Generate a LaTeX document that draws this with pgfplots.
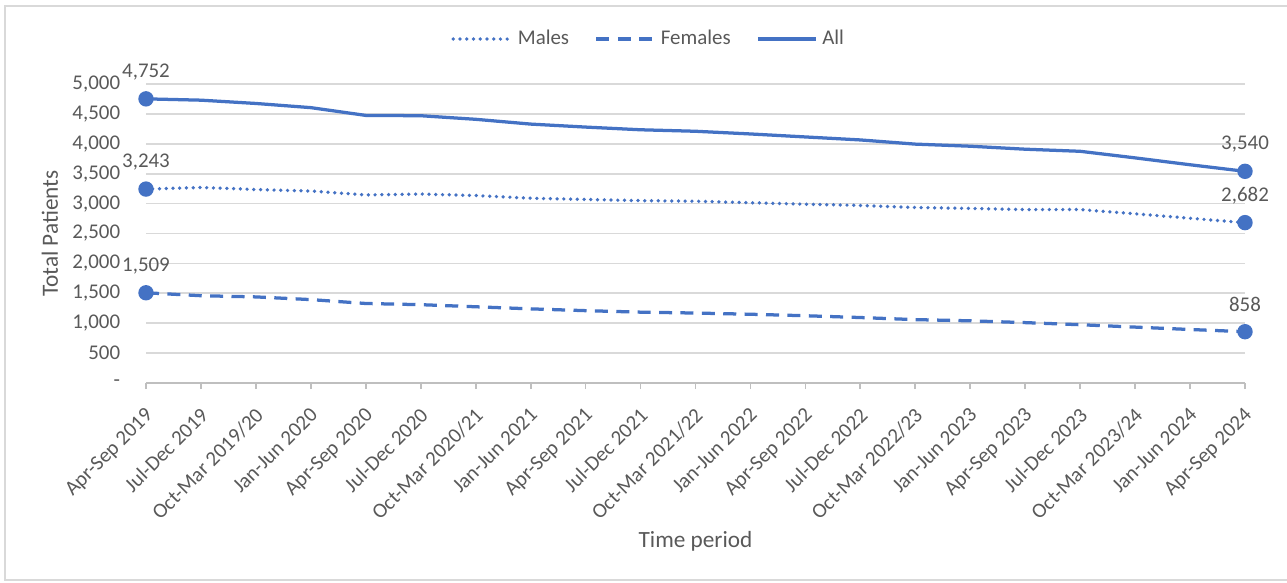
\documentclass[border=0pt]{standalone}
\usepackage{pgfplots}
\pgfplotsset{compat=1.18}
\usepackage{pgfplotstable}
\usepackage{fontspec}
\setmainfont{Carlito}

\definecolor{xlblue}{HTML}{4472C4}
\definecolor{xltext}{HTML}{595959}
\definecolor{xlgrid}{HTML}{D9D9D9}
\definecolor{xlaxis}{HTML}{BFBFBF}

% half-year periods, 0 = Apr-Sep 2019 ... 20 = Apr-Sep 2024
\pgfplotstableread{
idx males females all
0  3243 1509 4752
1  3270 1460 4730
2  3235 1440 4675
3  3210 1395 4605
4  3145 1330 4475
5  3160 1310 4470
6  3135 1275 4410
7  3090 1240 4330
8  3070 1210 4280
9  3050 1185 4235
10 3040 1170 4210
11 3015 1150 4165
12 2990 1125 4115
13 2970 1095 4065
14 2935 1060 3995
15 2920 1040 3960
16 2900 1010 3910
17 2900 975  3875
18 2830 935  3765
19 2755 895  3650
20 2682 858  3540
}\patients

\begin{document}
\begin{tikzpicture}
\useasboundingbox (0,0) rectangle (553.41pt,250.26pt);
\draw[xlgrid, line width=0.75pt] (2.15pt,1.0pt) rectangle (560pt,247.7pt);
\begin{axis}[
  at={(62.78pt,85.57pt)}, anchor=south west,
  scale only axis, width=472.57pt, height=128.57pt,
  xmin=0, xmax=20, ymin=0, ymax=5000,
  clip=false,
  axis x line=bottom, axis y line=left,
  x axis line style={-, draw=xlaxis, line width=0.75pt},
  y axis line style={draw=none},
  tick align=outside,
  major tick length=2.6pt,
  xtick style={draw=xlaxis, line width=0.75pt},
  ytick style={draw=none},
  xtick={0,...,20},
  xticklabels={Apr-Sep 2019, Jul-Dec 2019, Oct-Mar 2019/20, Jan-Jun 2020,
    Apr-Sep 2020, Jul-Dec 2020, Oct-Mar 2020/21, Jan-Jun 2021,
    Apr-Sep 2021, Jul-Dec 2021, Oct-Mar 2021/22, Jan-Jun 2022,
    Apr-Sep 2022, Jul-Dec 2022, Oct-Mar 2022/23, Jan-Jun 2023,
    Apr-Sep 2023, Jul-Dec 2023, Oct-Mar 2023/24, Jan-Jun 2024,
    Apr-Sep 2024},
  ytick={0,500,...,5000},
  yticklabels={{-\hspace{4.7pt}},500,{1,000},{1,500},{2,000},{2,500},
    {3,000},{3,500},{4,000},{4,500},{5,000}},
  ymajorgrids,
  grid style={xlgrid, line width=0.75pt},
  tick label style={font=\fontsize{9}{11}\selectfont, text=xltext},
  xticklabel style={xshift=-0.8pt, yshift=-2.5pt, rotate=45, anchor=north east},
  yticklabel style={xshift=-5pt},
  label style={font=\fontsize{10}{12}\selectfont, text=xltext},
  xlabel={Time period},
  xlabel style={at={(axis description cs:0.5,-0.528)}, anchor=center},
  ylabel={Total Patients},
  ylabel style={at={(axis description cs:-0.0874,0.5)}, anchor=center},
  legend columns=3,
  legend style={at={(axis description cs:0.4586,1.1505)}, anchor=center,
    draw=none, fill=none,
    font=\fontsize{9}{11}\selectfont\color{xltext},
    /tikz/every even column/.append style={column sep=9pt}},
  legend image code/.code={\draw[#1] (0pt,0pt) -- (25pt,0pt);},
  every axis plot/.append style={line width=1.4pt},
]
\addplot[xlblue, line width=1.6pt, line cap=round, dash pattern=on 0pt off 2.9pt]
  table[x=idx, y=males] {\patients};
\addlegendentry{Males}
\addplot[xlblue, dash pattern=on 5.6pt off 3.6pt]
  table[x=idx, y=females] {\patients};
\addlegendentry{Females}
\addplot[xlblue]
  table[x=idx, y=all] {\patients};
\addlegendentry{All}

% first and last values, labelled
\pgfplotsset{endlabels/.style={only marks, mark=*, mark size=2.6pt, xlblue,
  forget plot, nodes near coords, point meta=explicit symbolic,
  every node near coord/.append style={anchor=center, yshift=11.6pt,
    font=\fontsize{9}{11}\selectfont, text=xltext}}}
\addplot[endlabels] coordinates {(0,4752) [{4,752}] (20,3540) [{3,540}]};
\addplot[endlabels] coordinates {(0,3243) [{3,243}] (20,2682) [{2,682}]};
\addplot[endlabels] coordinates {(0,1509) [{1,509}] (20,858) [{858}]};
\end{axis}
\end{tikzpicture}
\end{document}
